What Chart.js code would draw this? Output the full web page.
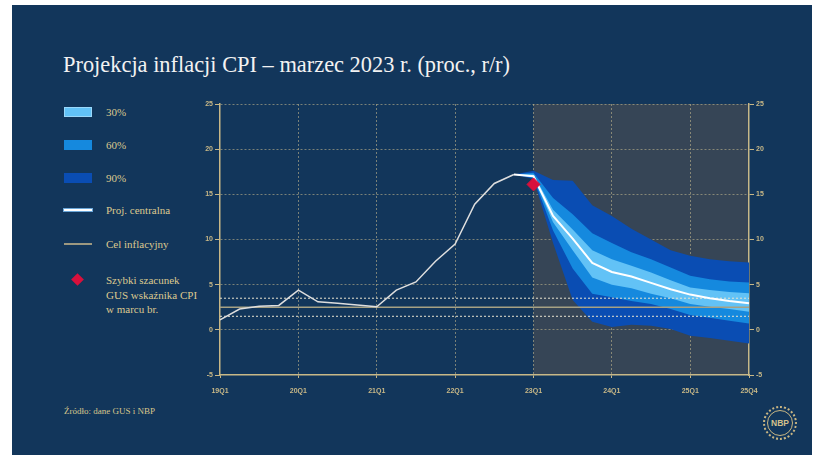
<!DOCTYPE html>
<html>
<head>
<meta charset="utf-8">
<script src="https://cdn.jsdelivr.net/npm/chart.js@4"></script>
<style>
  html, body { margin: 0; padding: 0; background: #fff; }
  body { width: 819px; height: 461px; position: relative; overflow: hidden; }
  #panel { position: absolute; left: 12px; top: 5px; width: 800px; height: 450px; background: #12365b; }
  #title { position: absolute; left: 63px; top: 52px; color: #f2f2f2; font-family: "Liberation Serif", serif; font-size: 22.4px; white-space: nowrap; }
  #chartBox { position: absolute; left: 0; top: 0; width: 819px; height: 461px; }
  .lg { position: absolute; font-family: "Liberation Serif", serif; font-size: 11px; color: #dcc98f; white-space: nowrap; line-height: 14.5px; }
  .sw { position: absolute; left: 64px; width: 28px; height: 10px; }
  #source { position: absolute; left: 64px; top: 406px; font-family: "Liberation Serif", serif; font-size: 9px; color: #d8c68c; }
  #nbp { position: absolute; left: 763px; top: 406px; width: 30px; height: 30px; border-radius: 50%; border: 2px dotted #c9b683; }
  #nbp div { position: absolute; left: 2px; top: 2px; width: 24px; height: 24px; border-radius: 50%; border: 1px solid #c9b683; color: #d2c08c; font: bold 8.5px "Liberation Sans", sans-serif; text-align: center; line-height: 24px; }
</style>
</head>
<body>
<div id="panel"></div>
<div id="title">Projekcja inflacji CPI – marzec 2023 r. (proc., r/r)</div>

<div class="sw" style="top:107px;background:#62c2f6;border:0.5px solid #9ad8fa;box-sizing:border-box"></div>
<div class="lg" style="left:106px;top:105px">30%</div>
<div class="sw" style="top:140px;background:#1589de"></div>
<div class="lg" style="left:106px;top:138px">60%</div>
<div class="sw" style="top:173px;background:#0a4db3"></div>
<div class="lg" style="left:106px;top:171px">90%</div>
<div class="sw" style="top:209px;height:2px;background:#ffffff;box-shadow:0 0 0 1px #6aa6d8"></div>
<div class="lg" style="left:106px;top:203px">Proj. centralna</div>
<div class="sw" style="top:243px;height:2px;background:#9c9880"></div>
<div class="lg" style="left:106px;top:237px">Cel inflacyjny</div>
<div style="position:absolute;left:73px;top:275px;width:9px;height:9px;background:#d8103c;transform:rotate(45deg)"></div>
<div class="lg" style="left:106px;top:273px">Szybki szacunek<br>GUS wskaźnika CPI<br>w marcu br.</div>

<div id="source">Źródło: dane GUS i NBP</div>
<div id="nbp"><div>NBP</div></div>

<div id="chartBox"><canvas id="myChart" width="819" height="461"></canvas></div>

<script>
// quarters 19Q1 .. 25Q4
const quarters = [
  "19Q1","19Q2","19Q3","19Q4","20Q1","20Q2","20Q3","20Q4",
  "21Q1","21Q2","21Q3","21Q4","22Q1","22Q2","22Q3","22Q4",
  "23Q1","23Q2","23Q3","23Q4","24Q1","24Q2","24Q3","24Q4",
  "25Q1","25Q2","25Q3","25Q4"
];
const shownTicks = ["19Q1","20Q1","21Q1","22Q1","23Q1","24Q1","25Q1","25Q4"];

// CPI actual, 19Q1..22Q4
const cpiHistory = [1.1, 2.3, 2.6, 2.7, 4.4, 3.1, 2.95, 2.75, 2.55, 4.4, 5.3, 7.6, 9.5, 13.9, 16.2, 17.2];

// projection, 22Q4..25Q4 (starts at last actual)
const fanQuarters = ["22Q4","23Q1","23Q2","23Q3","23Q4","24Q1","24Q2","24Q3","24Q4","25Q1","25Q2","25Q3","25Q4"];
const central = [17.2, 17.0, 12.6, 10.1, 7.4, 6.4, 5.9, 5.2, 4.5, 3.9, 3.5, 3.2, 2.95];
const up30 = [17.2, 17.2, 13.3, 11.1, 8.8, 7.8, 7.1, 6.35, 5.5, 4.7, 4.4, 4.2, 4.05];
const lo30 = [17.2, 16.9, 11.9, 8.8, 5.8, 5.0, 4.6, 4.0, 3.5, 2.85, 2.55, 2.3, 2.0];
const up60 = [17.2, 17.4, 14.6, 12.8, 10.7, 9.6, 8.6, 7.8, 6.9, 6.0, 5.6, 5.35, 5.25];
const lo60 = [17.2, 16.8, 11.0, 6.8, 4.0, 3.6, 3.2, 2.85, 2.3, 1.65, 1.35, 1.0, 0.7];
const up90 = [17.2, 17.6, 16.6, 16.5, 13.8, 12.6, 11.2, 10.0, 8.8, 8.2, 7.8, 7.6, 7.45];
const lo90 = [17.2, 16.7, 9.6, 3.3, 0.9, 0.3, 0.55, 0.45, 0.1, -0.65, -0.9, -1.2, -1.5];

// flash estimate March 2023
const flashQuarter = "23Q1";
const flashValue = 16.1;

// inflation target and tolerance band
const target = 2.5;
const targetBand = [1.5, 3.5];

const gold = "#c8b887";
const gridCol = "rgba(190,180,140,0.6)";

const pts = (xs, ys) => xs.map((x, i) => ({ x: x, y: ys[i] }));
const flat = (y) => [{ x: quarters[0], y: y }, { x: quarters[quarters.length - 1], y: y }];

// shaded projection period
const forecastBg = {
  id: "forecastBg",
  beforeDraw(chart) {
    const { ctx, chartArea, scales } = chart;
    const x0 = scales.x.getPixelForValue(quarters.indexOf("23Q1"));
    ctx.save();
    ctx.fillStyle = "#364556";
    ctx.fillRect(x0, chartArea.top, chartArea.right - x0, chartArea.bottom - chartArea.top);
    ctx.restore();
  }
};

const lineDs = (label, data, color, width, dash) => ({
  label: label, data: data, borderColor: color, borderWidth: width,
  borderDash: dash || [], pointRadius: 0, fill: false, tension: 0
});

const data = {
  labels: quarters,
  datasets: [
    {
      label: "Szybki szacunek", data: [{ x: flashQuarter, y: flashValue }],
      showLine: false, pointStyle: "rectRot", pointRadius: 6.5,
      backgroundColor: "#d8103c", borderColor: "#d8103c"
    },
    lineDs("Proj. centralna", pts(fanQuarters, central), "#ffffff", 2),
    lineDs("CPI", pts(quarters.slice(0, cpiHistory.length), cpiHistory), "#dedede", 1.5),
    lineDs("Cel", flat(target), "#a6a184", 1.5),
    lineDs("Pasmo górne", flat(targetBand[1]), "#e8e4d0", 1, [2, 2]),
    lineDs("Pasmo dolne", flat(targetBand[0]), "#e8e4d0", 1, [2, 2]),
    { label: "30%", data: pts(fanQuarters, up30), borderWidth: 0, pointRadius: 0, fill: "+1", backgroundColor: "#62c2f6" },
    { label: "30% lo", data: pts(fanQuarters, lo30), borderWidth: 0, pointRadius: 0, fill: false },
    { label: "60%", data: pts(fanQuarters, up60), borderWidth: 0, pointRadius: 0, fill: "+1", backgroundColor: "#1589de" },
    { label: "60% lo", data: pts(fanQuarters, lo60), borderWidth: 0, pointRadius: 0, fill: false },
    { label: "90%", data: pts(fanQuarters, up90), borderWidth: 0, pointRadius: 0, fill: "+1", backgroundColor: "#0a4db3" },
    { label: "90% lo", data: pts(fanQuarters, lo90), borderWidth: 0, pointRadius: 0, fill: false }
  ]
};

const tickFont = { family: "Liberation Sans", size: 7, weight: "bold" };

const config = {
  type: "line",
  data: data,
  plugins: [forecastBg],
  options: {
    responsive: false,
    animation: false,
    events: [],
    layout: { padding: { left: 190, right: 40, top: 104, bottom: 56 } },
    plugins: { legend: { display: false }, tooltip: { enabled: false } },
    scales: {
      x: {
        type: "category",
        offset: false,
        afterFit: (s) => { s.height = 30; },
        border: { color: gold, width: 1.5, dash: [2, 2] },
        grid: {
          color: (c) => {
            const lab = quarters[c.index];
            return (shownTicks.includes(lab) && c.index > 0 && c.index < quarters.length - 1) ? gridCol : "rgba(0,0,0,0)";
          },
          tickColor: (c) => shownTicks.includes(quarters[c.index]) ? gold : "rgba(0,0,0,0)",
          tickLength: 3,
          tickBorderDash: []
        },
        ticks: {
          autoSkip: false, maxRotation: 0, color: gold, font: tickFont, padding: 9,
          callback: (v, i) => shownTicks.includes(quarters[i]) ? quarters[i] : ""
        }
      },
      y: {
        position: "left",
        min: -5, max: 25,
        afterFit: (s) => { s.width = 30; },
        border: { color: gold, width: 1.5, dash: [2, 2] },
        grid: {
          color: (c) => (c.tick.value === -5) ? "rgba(0,0,0,0)" : gridCol,
          tickColor: gold, tickLength: 5, tickBorderDash: []
        },
        ticks: { stepSize: 5, color: gold, font: tickFont, padding: 2 }
      },
      y2: {
        position: "right",
        min: -5, max: 25,
        afterFit: (s) => { s.width = 30; },
        border: { color: gold, width: 1.5 },
        grid: { drawOnChartArea: false, tickColor: gold, tickLength: 5 },
        ticks: { stepSize: 5, color: gold, font: tickFont, padding: 2 }
      }
    }
  }
};

new Chart(document.getElementById("myChart"), config);
</script>
</body>
</html>
